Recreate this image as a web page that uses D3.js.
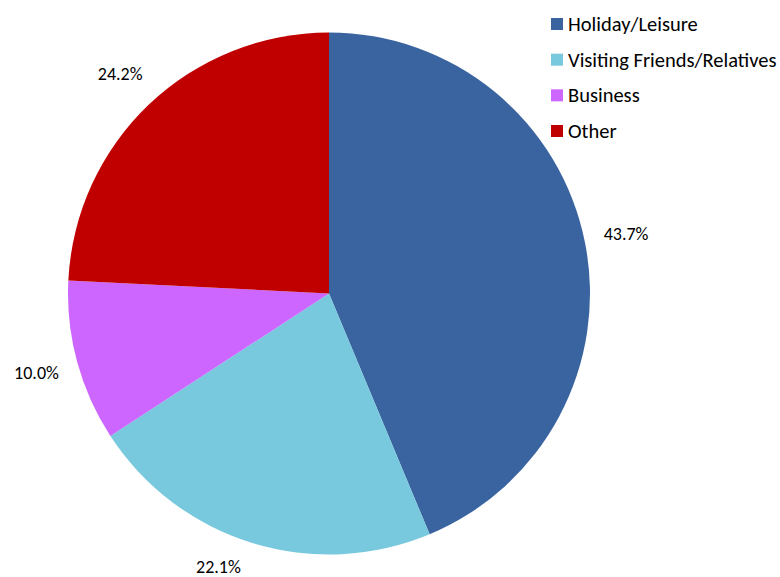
<!DOCTYPE html>
<html><head><meta charset="utf-8">
<script src="https://cdn.jsdelivr.net/npm/d3@7"></script>
<style>html,body{margin:0;padding:0;background:#fff;}svg{display:block;font-family:Carlito,Calibri,Lato,"Open Sans",sans-serif;}</style>
</head><body>
<svg id="chart" width="780" height="577"></svg>
<script>
const categories = ["Holiday/Leisure", "Visiting Friends/Relatives", "Business", "Other"];
const values = [43.7, 22.1, 10.0, 24.2];
const colors = ["#3A64A0", "#78C9DD", "#CC66FF", "#C00000"];

const svg = d3.select("#chart");
const W = 780, H = 577;
const cx = 329, cy = 293.5, R = 261;
const data = categories.map((c, i) => ({cat: c, value: values[i], color: colors[i]}));
const pie = d3.pie().value(d => d.value).sort(null);
const arcs = pie(data);
const arc = d3.arc().innerRadius(0).outerRadius(R);
const g = svg.append("g").attr("transform", `translate(${cx},${cy})`);
g.selectAll("path").data(arcs).join("path")
  .attr("d", arc).attr("fill", d => d.data.color);

const LR = 303, LRclamp = 295;
const fmt = d3.format(".1f");
g.selectAll("text.lbl").data(arcs).join("text").attr("class", "lbl")
  .each(function(d) {
    const a = (d.startAngle + d.endAngle) / 2;
    let x = LR * Math.sin(a), y = -LR * Math.cos(a);
    const maxY = H - 10 - cy;
    if (y > maxY) { y = maxY; x = Math.sign(x) * Math.sqrt(LRclamp * LRclamp - y * y); }
    d3.select(this).attr("x", x).attr("y", y);
  })
  .attr("text-anchor", "middle").attr("dominant-baseline", "central")
  .attr("font-size", 18).attr("fill", "#000")
  .text(d => fmt(d.data.value) + "%");

const leg = svg.append("g").attr("transform", "translate(551,0)");
const rowY = d3.scalePoint().domain(categories).range([24, 131]);
leg.selectAll("rect").data(data).join("rect")
  .attr("x", 0).attr("y", d => rowY(d.cat) - 6).attr("width", 12).attr("height", 12)
  .attr("fill", d => d.color);
leg.selectAll("text").data(data).join("text")
  .attr("x", 17).attr("y", d => rowY(d.cat)).attr("dominant-baseline", "central")
  .attr("font-size", 20.5).attr("fill", "#000").text(d => d.cat);
</script>
</body></html>
